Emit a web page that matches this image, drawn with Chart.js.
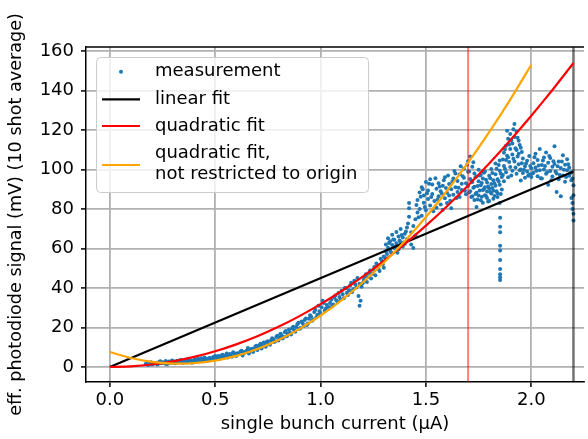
<!DOCTYPE html>
<html>
<head>
<meta charset="utf-8">
<script src="https://cdn.jsdelivr.net/npm/chart.js@4/dist/chart.umd.min.js"></script>
<style>
  body { margin: 0; background: #fff; }
</style>
</head>
<body>
<canvas id="canvas" width="588" height="439"></canvas>
<script>

// single bunch current (uA) / photodiode signal (mV), 10 shot average
var measCurrent = [
    0.17,0.18,0.19,0.20,0.21,0.22,0.23,0.24,0.25,0.26,0.27,0.28,0.29,0.30,0.31,0.32,0.33,0.34,0.35,0.36,0.37,0.38,0.39,0.40,0.41,0.42,0.43,0.44,0.45,0.46,0.47,0.48,0.49,0.50,0.50,
    0.51,0.52,0.53,0.54,0.55,0.56,0.57,0.58,0.59,0.60,0.61,0.62,0.63,0.64,0.65,0.66,0.67,0.68,0.69,0.70,0.71,0.72,0.73,0.74,0.75,0.76,0.77,0.78,0.79,0.80,0.81,0.82,0.83,0.84,0.85,0.86,0.87,0.88,0.89,0.90,0.91,0.92,0.93,0.94,0.95,0.96,0.97,0.98,0.99,1.00,1.01,1.02,1.03,
    1.04,1.05,1.06,1.07,1.08,1.09,1.10,1.11,1.12,1.13,1.14,1.15,1.16,1.17,1.18,1.185,1.19,1.20,1.21,1.22,1.23,1.24,1.25,1.26,1.27,1.28,1.29,1.30,1.30,
    1.31,1.31,1.32,1.32,1.33,1.33,1.34,1.34,1.35,1.35,1.36,1.36,1.37,1.37,1.38,1.38,1.39,1.39,1.40,1.40,1.41,1.41,1.42,1.42,1.42,1.43,1.43,1.44,1.44,1.45,1.45,
    1.46,1.46,1.47,1.47,1.48,1.48,1.49,1.49,1.50,1.50,1.51,1.51,1.52,1.52,1.53,1.53,1.54,1.55,1.55,1.56,1.56,1.57,1.57,1.58,1.58,1.59,1.59,1.60,1.60,1.61,1.61,1.62,1.62,1.63,1.63,1.64,1.64,1.65,1.65,1.66,1.66,1.67,1.67,1.68,1.68,1.69,1.69,1.70,1.70,1.70,
    1.71,1.71,1.71,1.72,1.72,1.72,1.73,1.73,1.73,1.74,1.74,1.74,1.75,1.75,1.75,1.76,1.76,1.76,1.77,1.77,1.77,1.78,1.78,1.78,1.79,1.79,1.79,1.80,1.80,1.80,1.81,1.81,1.81,1.82,1.82,1.82,1.83,1.83,1.83,1.84,1.84,1.84,1.85,1.85,1.85,1.85,1.86,1.86,
    1.852,1.852,1.852,1.852,1.852,1.852,1.852,1.852,1.852,1.852,
    1.87,1.87,1.87,1.88,1.88,1.88,1.89,1.89,1.89,1.90,1.90,1.90,1.91,1.91,1.91,1.92,1.92,1.92,1.93,1.93,1.93,1.94,1.94,1.94,1.95,1.95,1.95,1.96,1.96,
    1.97,1.97,1.98,1.98,1.99,1.99,2.00,2.00,2.01,2.01,2.02,2.02,2.03,2.03,2.04,2.04,2.05,2.05,2.06,2.06,2.07,2.07,2.08,2.08,2.09,2.09,2.10,2.10,2.11,2.11,2.12,2.12,2.13,2.13,2.14,2.14,2.15,2.15,2.16,2.16,2.17,2.17,2.18,2.18,2.19,2.19,2.20,2.20,2.195,2.195,2.20,2.20,2.19,
    0.175,0.185,0.195,0.205,0.215,0.225,0.235,0.245,0.255,0.265,0.275,0.285,0.295,0.305,0.315,0.325,0.335,0.345,0.355,0.365,0.375,0.385,0.395,0.405,0.415,0.425,0.435,0.445,0.455,0.465,0.475,0.485,0.495,
    0.505,0.515,0.525,0.535,0.545,0.555,0.565,0.575,0.585,0.595,0.605,0.615,0.625,0.635,0.645,0.655,0.665,0.675,0.685,0.695,0.705,0.715,0.725,0.735,0.745,0.755,0.765,0.775,0.785,0.795,0.805,0.815,0.825,0.835,0.845,0.855,0.865,0.875,0.885,0.895,0.905,0.915,0.925,0.935,0.945,0.955,0.965,0.975,0.985,0.995,1.005,1.015,1.025,
    1.045,1.055,1.065,1.075,1.085,1.095,1.105,1.115,1.125,1.135,1.145,1.155,1.165,1.175,1.185,1.195,1.205,1.215,1.225,1.235,1.245,1.255,1.265,1.275,1.285,1.295,
    1.305,1.315,1.325,1.335,1.345,1.355,1.365,1.375,1.385,1.395,1.405,1.415,
    1.455,1.465,1.475,1.485,1.495,1.505,1.515,1.525,1.535,1.545,1.555,1.565,1.575,1.585,1.595,1.605,1.615,1.625,1.635,1.645,1.655,1.665,1.675,1.685,1.695,
    1.705,1.705,1.715,1.715,1.725,1.725,1.735,1.735,1.745,1.745,1.755,1.755,1.765,1.765,1.775,1.775,1.785,1.785,1.795,1.795,1.805,1.805,1.815,1.815,1.825,1.825,1.835,1.835,1.845,1.845,1.855,1.855,
    1.865,1.865,1.875,1.875,1.885,1.885,1.895,1.895,1.905,1.905,1.915,1.915,1.925,1.925,1.935,1.935,1.945,1.945,1.955,1.955,
    1.965,1.975,1.985,1.995,2.005,2.015,2.025,2.035,2.045,2.055,2.065,2.075,2.085,2.095,2.105,2.115,2.125,2.135,2.145,2.155,2.165,2.175,2.185,2.195
];
var measSignal = [
    1.5,1.0,2.0,1.2,1.8,2.2,1.6,2.9,2.4,1.8,1.4,2.8,2.0,3.0,1.9,3.2,2.6,3.4,2.2,3.0,4.0,2.8,2.2,3.5,2.6,4.2,3.2,3.8,4.8,3.0,4.4,3.6,5.0,4.0,5.6,
    5.2,4.0,5.8,4.6,6.0,4.8,6.6,5.2,7.0,5.6,6.4,7.8,5.8,7.2,8.4,6.8,9.0,7.6,10.2,8.6,11.0,9.4,12.4,10.2,13.0,11.2,14.6,12.6,15.2,13.4,16.8,14.4,17.6,15.6,19.0,16.4,20.4,17.8,21.6,19.4,23.0,20.8,24.6,22.0,26.2,23.4,27.8,25.2,31.0,27.0,33.5,28.6,31.4,
    30.2,34.0,31.6,36.2,33.0,35.4,38.6,34.8,39.8,36.4,41.2,38.0,43.6,40.2,36.0,31.0,33.5,42.4,45.8,43.0,47.6,44.8,49.2,46.4,51.4,48.6,53.8,50.2,56.0,
    58.6,62.0,60.4,65.2,59.0,63.6,61.8,67.0,60.2,64.4,62.6,68.4,59.6,66.0,63.2,69.8,61.0,65.6,67.4,62.4,70.6,64.8,76.0,80.4,83.0,68.2,62.0,71.4,60.2,66.6,74.8,
    78.2,84.6,80.0,88.4,76.6,91.0,83.2,86.8,79.4,93.6,85.0,89.4,95.0,81.8,87.6,92.4,84.0,90.2,80.6,86.4,93.0,82.2,89.0,91.8,79.6,85.4,96.0,88.2,83.0,92.6,86.8,80.4,90.0,87.2,95.4,91.0,98.0,88.6,94.2,86.0,97.6,92.8,89.6,95.8,100.4,93.0,87.4,98.8,104.2,91.6,
    106.6,95.2,89.0,101.4,93.6,86.4,98.0,91.2,84.6,96.4,88.2,81.0,94.0,99.8,86.8,92.0,84.4,97.2,89.6,95.4,83.2,91.0,87.0,99.0,93.4,85.6,88.8,96.8,90.4,84.0,92.6,87.8,100.2,94.6,89.2,85.2,97.6,91.8,103.0,88.0,95.0,86.0,99.4,92.2,104.6,83.0,89.8,96.2,
    75.6,71.0,68.2,61.4,59.0,54.2,49.6,47.0,45.4,44.0,
    101.8,108.4,94.0,112.0,98.6,104.8,115.6,106.2,96.0,110.4,101.2,118.0,107.6,113.2,99.4,123.0,116.4,104.0,119.2,109.8,97.8,114.6,102.6,108.0,111.0,100.0,94.4,105.6,98.2,
    101.6,95.8,104.4,99.0,97.4,106.8,100.6,96.2,103.2,98.4,108.0,101.0,96.6,104.8,99.6,110.4,102.2,95.4,106.0,100.0,97.8,108.6,103.4,92.2,99.2,105.8,101.4,96.4,111.8,102.8,98.0,88.6,104.0,95.0,100.8,86.4,107.2,97.0,102.4,93.8,99.6,105.2,96.8,101.0,94.6,98.6,92.0,87.0,83.0,80.0,77.6,74.2,85.6,
    1.8,1.3,2.4,1.6,2.0,1.2,2.6,1.9,2.2,3.0,1.7,2.5,3.3,2.1,2.8,2.4,3.6,2.0,3.1,2.7,3.9,3.3,2.5,4.1,3.0,3.6,4.4,2.9,4.0,3.4,4.6,3.8,4.3,
    4.4,5.6,4.9,6.2,5.3,6.8,5.5,6.0,7.4,6.2,7.0,6.6,8.2,7.4,7.9,9.6,8.2,9.2,8.8,10.8,9.8,11.8,10.6,12.0,12.8,11.6,13.6,14.0,13.0,15.8,14.8,16.0,15.2,18.2,16.8,17.4,19.6,18.6,20.2,22.4,19.8,22.2,23.8,21.2,24.4,25.6,24.0,29.0,26.4,28.2,30.2,32.4,29.6,
    32.4,30.8,35.0,33.8,37.4,34.2,36.8,40.0,37.6,38.8,42.6,39.4,41.8,45.0,42.2,40.6,44.2,47.0,45.4,48.8,47.2,50.6,52.4,49.6,54.8,52.0,
    55.4,57.2,62.8,58.0,64.6,61.0,57.8,64.0,66.8,63.0,68.6,72.6,
    82.0,75.8,86.2,90.0,81.0,88.0,92.8,86.0,78.8,95.6,84.8,91.4,87.8,94.6,90.6,97.0,84.2,93.8,99.2,85.6,90.8,101.6,96.6,89.2,102.4,
    99.0,88.4,94.4,86.0,103.6,90.8,87.6,96.0,91.6,84.8,97.0,89.4,93.2,86.2,90.0,98.4,86.6,94.8,91.4,83.8,88.6,95.6,98.2,90.6,86.6,93.0,100.4,89.0,94.0,102.2,87.6,98.0,
    105.0,97.2,110.2,100.4,107.0,119.6,103.8,112.6,114.8,97.0,120.4,105.4,110.8,101.0,116.0,106.6,99.6,112.4,103.2,108.8,
    99.8,103.0,96.8,101.8,98.0,106.2,99.4,102.0,95.6,104.6,101.8,98.6,106.8,94.6,104.2,99.0,101.6,97.2,104.0,99.8,96.2,102.6,98.2,95.4
];

// fit curves, sampled every 0.1 uA
var fitCurrent = [0,0.1,0.2,0.3,0.4,0.5,0.6,0.7,0.8,0.9,1.0,1.1,1.2,1.3,1.4,1.5,1.6,1.7,1.8,1.9,2.0,2.1,2.2];
var linearCurrent = [0, 2.2];
var linearSignal = [0, 99];
var quadSignal = [0,0.32,1.27,2.86,5.09,7.95,11.45,15.58,20.35,25.76,31.8,38.48,45.79,53.74,62.33,71.55,81.41,91.9,103.03,114.8,127.2,140.24,153.91];
var quadFreeSignal = [7.6,4.56,2.61,1.74,1.96,3.26,5.65,9.12,13.68,19.32,26.05,33.86,42.76,52.74,63.81,75.96,89.2,103.5,118.93,135.4,153.0];

// vertical markers
var markerRed = 1.7;
var markerBlack = 2.2;

var xTicks = [0, 0.5, 1.0, 1.5, 2.0];
var yTicks = [0, 20, 40, 60, 80, 100, 120, 140, 160];

var legendLabels = ['measurement', 'linear fit', 'quadratic fit', ['quadratic fit,', 'not restricted to origin']];

var X_MIN = -0.113, X_MAX = 2.25;
var Y_MIN = -7.6, Y_MAX = 162;
var FONT = 'DejaVu Sans';
var FONT_SIZE = 18;

function pts(xs, ys) {
    var out = [];
    var n = Math.min(xs.length, ys.length);
    for (var i = 0; i < n; i++) {
        out.push({x: xs[i], y: ys[i]});
    }
    return out;
}

function vline(x) {
    return [{x: x, y: Y_MIN}, {x: x, y: Y_MAX}];
}

// matplotlib-like legend drawn inside the axes
var legendBox = {
    id: 'legendBox',
    afterDraw: function (chart) {
        var ctx = chart.ctx;
        var a = chart.chartArea;
        var left = a.left + 10, top = a.top + 10;
        var w = 272, h = 135;

        ctx.save();
        ctx.beginPath();
        ctx.roundRect(left + 0.5, top + 0.5, w, h, 4);
        ctx.fillStyle = 'rgba(255,255,255,0.8)';
        ctx.fill();
        ctx.strokeStyle = '#cccccc';
        ctx.lineWidth = 1;
        ctx.stroke();

        var rows = [14.7, 42.3, 69, 108];
        var colors = ['#1f77b4', '#000000', '#ff0000', '#ffa500'];
        ctx.font = FONT_SIZE + 'px "' + FONT + '"';
        ctx.textBaseline = 'middle';
        for (var i = 0; i < rows.length; i++) {
            var y = top + rows[i];
            if (i == 0) {
                ctx.beginPath();
                ctx.arc(left + 25, y, 2, 0, Math.PI * 2);
                ctx.fillStyle = colors[0];
                ctx.fill();
            } else {
                ctx.beginPath();
                ctx.moveTo(left + 6, y);
                ctx.lineTo(left + 44, y);
                ctx.strokeStyle = colors[i];
                ctx.lineWidth = 2.2;
                ctx.stroke();
            }
            ctx.fillStyle = '#000';
            var label = legendLabels[i];
            if (Array.isArray(label)) {
                ctx.fillText(label[0], left + 59, top + 96.3);
                ctx.fillText(label[1], left + 59, top + 117);
            } else {
                ctx.fillText(label, left + 59, y);
            }
        }
        ctx.restore();
    }
};

// top spine
var topSpine = {
    id: 'topSpine',
    afterDatasetsDraw: function (chart) {
        var ctx = chart.ctx;
        var a = chart.chartArea;
        ctx.save();
        ctx.beginPath();
        ctx.moveTo(a.left, a.top);
        ctx.lineTo(a.right, a.top);
        ctx.strokeStyle = '#000';
        ctx.lineWidth = 1.5;
        ctx.stroke();
        ctx.restore();
    }
};

var lineStyle = {
    type: 'scatter',
    showLine: true,
    pointRadius: 0,
    borderWidth: 2.2,
    tension: 0.2,
    fill: false
};

var axisGrid = {
    color: '#b0b0b0',
    lineWidth: 1.8,
    tickColor: '#000',
    tickLength: 5,
    tickWidth: 1.5
};

var ctx = document.getElementById('canvas').getContext('2d');

window.myChart = new Chart(ctx, {
    type: 'scatter',
    data: {
        datasets: [
            Object.assign({}, lineStyle, {
                label: 'quadratic fit, not restricted to origin',
                data: pts(fitCurrent, quadFreeSignal),
                borderColor: '#ffa500',
                order: 1
            }),
            Object.assign({}, lineStyle, {
                label: 'quadratic fit',
                data: pts(fitCurrent, quadSignal),
                borderColor: '#ff0000',
                order: 2
            }),
            Object.assign({}, lineStyle, {
                label: 'linear fit',
                data: pts(linearCurrent, linearSignal),
                borderColor: '#000000',
                order: 3
            }),
            Object.assign({}, lineStyle, {
                label: 'red marker',
                data: vline(markerRed),
                borderColor: 'rgba(255,0,0,0.5)',
                borderWidth: 2,
                tension: 0,
                order: 4
            }),
            Object.assign({}, lineStyle, {
                label: 'black marker',
                data: vline(markerBlack),
                borderColor: 'rgba(0,0,0,0.55)',
                borderWidth: 2.5,
                tension: 0,
                order: 5
            }),
            {
                label: 'measurement',
                data: pts(measCurrent, measSignal),
                backgroundColor: '#1f77b4',
                borderWidth: 0,
                pointRadius: 2,
                order: 6
            }
        ]
    },
    options: {
        responsive: false,
        animation: false,
        layout: {
            padding: {top: 47, right: 0, left: 0, bottom: 0}
        },
        plugins: {
            legend: {display: false},
            tooltip: {enabled: false}
        },
        scales: {
            x: {
                type: 'linear',
                min: X_MIN,
                max: X_MAX,
                afterFit: function (scale) { scale.height = 57; },
                afterBuildTicks: function (scale) {
                    scale.ticks = xTicks.map(function (v) { return {value: v}; });
                },
                ticks: {
                    color: '#000',
                    font: {family: FONT, size: FONT_SIZE},
                    padding: 3,
                    maxRotation: 0,
                    callback: function (v) { return Number(v).toFixed(1); }
                },
                grid: axisGrid,
                border: {display: true, color: '#000', width: 1.5},
                title: {
                    display: true,
                    text: 'single bunch current (µA)',
                    color: '#000',
                    font: {family: FONT, size: FONT_SIZE},
                    padding: {top: 0, bottom: 4}
                }
            },
            y: {
                type: 'linear',
                min: Y_MIN,
                max: Y_MAX,
                afterFit: function (scale) { scale.width = 86; },
                afterBuildTicks: function (scale) {
                    scale.ticks = yTicks.map(function (v) { return {value: v}; });
                },
                ticks: {
                    color: '#000',
                    font: {family: FONT, size: FONT_SIZE},
                    padding: 7
                },
                grid: axisGrid,
                border: {display: true, color: '#000', width: 1.5},
                title: {
                    display: true,
                    text: 'eff. photodiode signal (mV) (10 shot average)',
                    color: '#000',
                    font: {family: FONT, size: 17.6},
                    padding: {top: 6, bottom: 0}
                }
            }
        }
    },
    plugins: [topSpine, legendBox]
});

</script>
</body>
</html>
